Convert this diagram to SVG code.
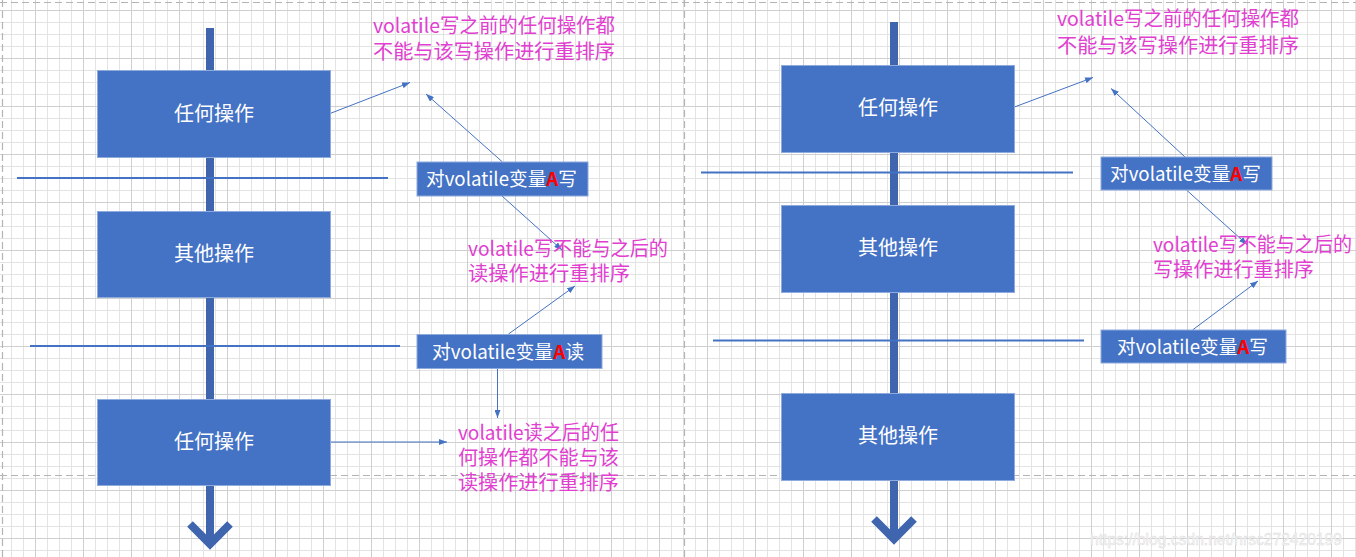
<svg xmlns="http://www.w3.org/2000/svg" width="1356" height="557" viewBox="0 0 1356 557">
<style>
.box{fill:#4472c4;stroke:#8faadc;stroke-width:1}
.bt{font-family:"Noto Sans CJK SC","Noto Sans",sans-serif;font-size:20px;fill:#ffffff;text-anchor:middle}
.st{font-family:"Noto Sans CJK SC","Noto Sans",sans-serif;font-size:19px;fill:#ffffff}
.pk{font-family:"Noto Sans CJK SC","Noto Sans",sans-serif;font-size:20px;fill:#e13fd0}
.red{fill:#ff0000;font-weight:bold}
.bar{fill:#3e65ae}
.chev{fill:none;stroke:#3e65ae;stroke-width:8;stroke-linejoin:miter;stroke-miterlimit:10}
.sep{stroke:#4472c4;stroke-width:2.2}
.con{stroke:#4472c4;stroke-width:1;fill:none;marker-end:url(#ah)}
.dash{stroke:#b4b4b4;stroke-width:1.2;stroke-dasharray:7 4;fill:none}
</style>
<defs>
<pattern id="grid" width="48" height="48" patternUnits="userSpaceOnUse">
<rect width="48" height="48" fill="#ffffff"/>
<path d="M11.5 0V48M23.5 0V48M47.5 0V48M0 22.5H48M0 34.5H48M0 46.5H48" stroke="#e3e3e3" stroke-width="1"/>
<path d="M35.5 0V48M0 10.5H48" stroke="#cfcfcf" stroke-width="1"/>
</pattern>
<marker id="ah" markerWidth="8" markerHeight="6" refX="8" refY="3" orient="auto" markerUnits="userSpaceOnUse">
<path d="M0,0 L8,3 L0,6 z" fill="#4472c4"/>
</marker>
</defs>
<rect width="1356" height="557" fill="url(#grid)"/>
<g id="page-borders">
<path class="dash" d="M0 2.5H1356M2.5 0V557M0 475.5H1356M684.5 0V557"/>
</g>
<g id="timelines">
<rect class="bar" x="206" y="28" width="8" height="516"/>
<polyline class="chev" points="190,524 210,544 230,524"/>
<rect class="bar" x="890" y="22" width="8" height="517"/>
<polyline class="chev" points="874,519 894,539 914,519"/>
</g>
<g id="separators">
<line class="sep" x1="17" y1="178" x2="388" y2="178"/>
<line class="sep" x1="30" y1="346" x2="400" y2="346"/>
<line class="sep" x1="701" y1="172.5" x2="1073" y2="172.5"/>
<line class="sep" x1="713" y1="340.5" x2="1084" y2="340.5"/>
</g>
<g id="connectors">
<line class="con" x1="330" y1="113.5" x2="410" y2="82.5"/>
<line class="con" x1="502.5" y1="162" x2="426" y2="94"/>
<line class="con" x1="502" y1="196" x2="562" y2="250"/>
<line class="con" x1="508.5" y1="334" x2="575" y2="286"/>
<line class="con" x1="497.5" y1="369" x2="497.5" y2="418"/>
<line class="con" x1="330" y1="442" x2="447" y2="442"/>
<line class="con" x1="1014.5" y1="107" x2="1093" y2="77.5"/>
<line class="con" x1="1185" y1="157" x2="1111" y2="88.5"/>
<line class="con" x1="1186.5" y1="190" x2="1247" y2="244.5"/>
<line class="con" x1="1192.5" y1="330" x2="1258" y2="281"/>
</g>
<g id="left-any-op-1">
<rect class="box" x="97.5" y="70.5" width="233" height="87"/>
<text class="bt" x="214" y="121">任何操作</text>
</g>
<g id="left-other-op">
<rect class="box" x="97.5" y="211.5" width="233" height="86"/>
<text class="bt" x="214" y="261">其他操作</text>
</g>
<g id="left-any-op-2">
<rect class="box" x="97.5" y="399.5" width="233" height="86"/>
<text class="bt" x="214" y="449">任何操作</text>
</g>
<g id="left-volatile-write">
<rect class="box" x="417" y="162" width="171" height="34"/>
<text class="st" x="426" y="186" textLength="151" lengthAdjust="spacingAndGlyphs">对volatile变量<tspan class="red">A</tspan>写</text>
</g>
<g id="left-volatile-read">
<rect class="box" x="417" y="334.5" width="185" height="34"/>
<text class="st" x="432" y="358.5" textLength="152" lengthAdjust="spacingAndGlyphs">对volatile变量<tspan class="red">A</tspan>读</text>
</g>
<g id="right-any-op">
<rect class="box" x="781.5" y="65.5" width="233" height="87"/>
<text class="bt" x="898" y="115">任何操作</text>
</g>
<g id="right-other-op-1">
<rect class="box" x="781.5" y="205.5" width="233" height="87"/>
<text class="bt" x="898" y="255">其他操作</text>
</g>
<g id="right-other-op-2">
<rect class="box" x="781.5" y="393.5" width="233" height="87"/>
<text class="bt" x="898" y="443">其他操作</text>
</g>
<g id="right-volatile-write-1">
<rect class="box" x="1101" y="157" width="171" height="33"/>
<text class="st" x="1110" y="180.5" textLength="151" lengthAdjust="spacingAndGlyphs">对volatile变量<tspan class="red">A</tspan>写</text>
</g>
<g id="right-volatile-write-2">
<rect class="box" x="1101" y="330" width="185" height="33"/>
<text class="st" x="1117" y="353.5" textLength="151" lengthAdjust="spacingAndGlyphs">对volatile变量<tspan class="red">A</tspan>写</text>
</g>
<g id="notes">
<text class="pk" x="373" y="33" textLength="242" lengthAdjust="spacingAndGlyphs">volatile写之前的任何操作都</text>
<text class="pk" x="373" y="59" textLength="242" lengthAdjust="spacingAndGlyphs">不能与该写操作进行重排序</text>
<text class="pk" x="468" y="256" textLength="200" lengthAdjust="spacingAndGlyphs">volatile写不能与之后的</text>
<text class="pk" x="468" y="281" textLength="162" lengthAdjust="spacingAndGlyphs">读操作进行重排序</text>
<text class="pk" x="458" y="440" textLength="161" lengthAdjust="spacingAndGlyphs">volatile读之后的任</text>
<text class="pk" x="458" y="465" textLength="161" lengthAdjust="spacingAndGlyphs">何操作都不能与该</text>
<text class="pk" x="458" y="490" textLength="161" lengthAdjust="spacingAndGlyphs">读操作进行重排序</text>
<text class="pk" x="1057" y="26" textLength="242" lengthAdjust="spacingAndGlyphs">volatile写之前的任何操作都</text>
<text class="pk" x="1057" y="53" textLength="242" lengthAdjust="spacingAndGlyphs">不能与该写操作进行重排序</text>
<text class="pk" x="1153" y="252" textLength="199" lengthAdjust="spacingAndGlyphs">volatile写不能与之后的</text>
<text class="pk" x="1153" y="277" textLength="161" lengthAdjust="spacingAndGlyphs">写操作进行重排序</text>
</g>
<text x="1090" y="545" textLength="252" lengthAdjust="spacingAndGlyphs" font-family="Liberation Sans, sans-serif" font-size="17" fill="#f4f4f4" stroke="#dadada" stroke-width="0.4">https://blog.csdn.net/nrsc272420199</text>
</svg>
